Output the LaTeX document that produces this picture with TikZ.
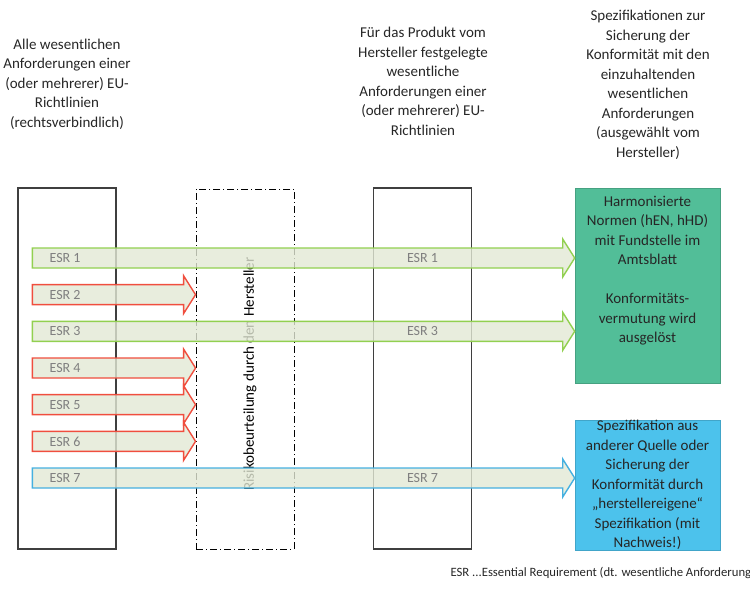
\documentclass[tikz,border=0pt]{standalone}
\usepackage{fontspec}
\setmainfont{Carlito}
\usetikzlibrary{positioning,calc}

\definecolor{rahmen}{HTML}{3F3F3F}
\definecolor{schrift}{HTML}{262626}
\definecolor{esrgruen}{HTML}{92D050}
\definecolor{esrrot}{HTML}{F04E3E}
\definecolor{esrblau}{HTML}{45B0E0}
\definecolor{esrfuell}{HTML}{E2E8D4}
\definecolor{normfuell}{HTML}{52BE98}
\definecolor{spezfuell}{HTML}{4CC2EC}

\begin{document}
\begin{tikzpicture}[x=1pt,y=-1pt,
                    every node/.style={text=schrift,font=\fontsize{15}{19.5}\selectfont},
                    titel/.style={align=center},
                    spalte/.style={draw=rahmen,line width=1.3pt,inner sep=0pt,
                                   minimum width=98pt,minimum height=361pt},
                    risikobox/.style={draw=black,line width=0.9pt,inner sep=0pt,
                                   dash pattern=on 7pt off 3pt on 1pt off 3pt,
                                   minimum width=98pt,minimum height=360pt},
                    farbbox/.style={draw=#1!85!black,fill=#1,line width=0.6pt,
                                   inner sep=0pt,minimum width=145pt,align=center},
                    esr/.style={fill=esrfuell,fill opacity=0.8,line width=1.4pt},
                    esrtext/.style={text=gray,inner sep=0pt,
                                   font=\fontsize{14}{16}\selectfont}]

  \useasboundingbox (0,0) rectangle (750,591);

  % Überschriften der Spalten
  \node[titel] (kopflinks)  at (67,84)   {Alle wesentlichen\\Anforderungen einer\\(oder mehrerer) EU-\\Richtlinien\\(rechtsverbindlich)};
  \node[titel] (kopfmitte)  at (423,81.5) {Für das Produkt vom\\Hersteller festgelegte\\wesentliche\\Anforderungen einer\\(oder mehrerer) EU-\\Richtlinien};
  \node[titel] (kopfrechts) at (648,85)  {Spezifikationen zur\\Sicherung der\\Konformität mit den\\einzuhaltenden\\wesentlichen\\Anforderungen\\(ausgewählt vom\\Hersteller)};

  % Spalten
  \node[spalte]    (links)  at (67,368.5)  {};
  \node[risikobox] (risiko) at (245,369)   {};
  \node[spalte]    (mitte)  at (422.5,368.5) {};
  \node[rotate=90,text=black] (risikotext) at (250,374) {Risikobeurteilung durch den Hersteller};

  % Spezifikationen
  \node[farbbox=normfuell,minimum height=195pt] (norm) at (647.5,285.5) {};
  \node[align=center] (normtext) at ($(norm.north)+(0,83)$)
    {Harmonisierte\\Normen (hEN, hHD)\\mit Fundstelle im\\Amtsblatt\\[19.5pt]Konformitäts-\\vermutung wird\\ausgelöst};
  \node[farbbox=spezfuell,minimum height=130pt] (spez) at (647.5,485)
    {Spezifikation aus\\anderer Quelle oder\\Sicherung der\\Konformität durch\\„herstellereigene“\\Spezifikation (mit\\Nachweis!)};

  % ESR-Pfeile
  \foreach \nr/\ziel/\farbe in {1/norm/esrgruen,2/risiko/esrrot,3/norm/esrgruen,
                                4/risiko/esrrot,5/risiko/esrrot,6/risiko/esrrot,7/spez/esrblau}{
    \pgfmathsetmacro\y{258+36.67*(\nr-1)}
    \coordinate (s\nr) at ($(links.west |- 0,\y)+(15,0)$);
    \coordinate (t\nr) at (\ziel.west |- 0,\y);
    \filldraw[esr,draw=\farbe] ($(s\nr)+(0,-10)$) -- ($(t\nr)+(-12,-10)$) -- ($(t\nr)+(-12,-19)$)
      -- (t\nr) -- ($(t\nr)+(-12,19)$) -- ($(t\nr)+(-12,10)$) -- ($(s\nr)+(0,10)$) -- cycle;
    \node[esrtext,right=17pt of s\nr] (l\nr) {ESR \nr};
  }

  % durchgehende ESR in der mittleren Spalte
  \foreach \nr in {1,3,7}
    \node[esrtext] (m\nr) at (mitte.center |- s\nr) {ESR \nr};

  % Fußnote
  \node[anchor=west,font=\fontsize{12.7}{14}\selectfont] (fussnote) at (447,573)
    {ESR ...Essential Requirement (dt. wesentliche Anforderung)};
\end{tikzpicture}
\end{document}
